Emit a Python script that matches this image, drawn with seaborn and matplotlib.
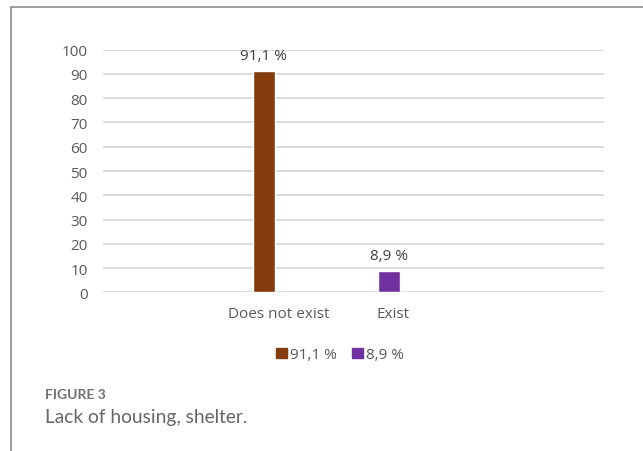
import matplotlib
matplotlib.use("Agg")
import matplotlib.pyplot as plt
import matplotlib.transforms as mtransforms
from matplotlib.lines import Line2D
import pandas as pd
import seaborn as sns

# data
categories = ["Does not exist", "Exist"]
values = [91.1, 8.9]
series_labels = ["91,1 %", "8,9 %"]
colors = ["#843C0C", "#7030A0"]
y_ticks = [0, 10, 20, 30, 40, 50, 60, 70, 80, 90, 100]

sns.set_theme(style="white")
plt.rcParams["font.family"] = ["Open Sans", "DejaVu Sans"]

df = pd.DataFrame({"category": categories, "value": values, "series": series_labels})

fig = plt.figure(figsize=(6.43, 4.52), dpi=100)
ax = fig.add_axes([0.160, 0.3507, 0.779, 0.5373])

sns.barplot(
    data=df, x="category", y="value", hue="series",
    palette=dict(zip(series_labels, colors)), saturation=1,
    dodge=False, width=0.176, ax=ax, legend=False,
)

ax.set_xlim(-1.288, 2.72)
ax.set_ylim(0, 100)
ax.set_yticks(y_ticks)
ax.set_axisbelow(True)
ax.yaxis.grid(True, color="#d9d9d9", linewidth=1.3)
ax.xaxis.grid(False)
for s in ax.spines.values():
    s.set_visible(False)
ax.set_xlabel("")
ax.set_ylabel("")
ax.tick_params(axis="y", length=0, pad=11, labelsize=11, labelcolor="#595959")
ax.tick_params(axis="x", length=0, pad=10, labelsize=11, labelcolor="#595959")

# small shift of category labels like in the original
for lbl, dx in zip(ax.get_xticklabels(), [14.5, 4]):
    lbl.set_transform(lbl.get_transform() + mtransforms.ScaledTranslation(dx / 100, 0, fig.dpi_scale_trans))

# data labels
for cont, lab in zip(ax.containers, series_labels):
    ax.bar_label(cont, labels=[lab], padding=6, fontsize=11, color="#404040")

# legend
handles = [plt.Rectangle((0, 0), 1, 1, color=c) for c in colors]
fig.legend(handles, series_labels, loc="center", bbox_to_anchor=(0.529, 0.2124),
           ncol=2, frameon=False, handlelength=0.7, handleheight=0.7,
           handletextpad=0.2, columnspacing=1.0, fontsize=11, labelcolor="#595959")

# caption
fig.text(45 / 643, 1 - 395 / 452, "FIGURE 3", fontsize=10, fontweight="bold",
         color="#707070", family=["Lato", "DejaVu Sans"], va="center")
fig.text(45 / 643, 1 - 418 / 452, "Lack of housing, shelter.", fontsize=13.8,
         color="#666666", family=["Lato", "DejaVu Sans"], va="center")

# frame lines
fig.add_artist(Line2D([11 / 643, 11 / 643], [0, 1 - 8.3 / 452], color="#8c8c8c", linewidth=1.2))
fig.add_artist(Line2D([11 / 643, 1], [1 - 8.3 / 452, 1 - 8.3 / 452], color="#8c8c8c", linewidth=1.2))

fig.savefig("out.png", dpi=100)
